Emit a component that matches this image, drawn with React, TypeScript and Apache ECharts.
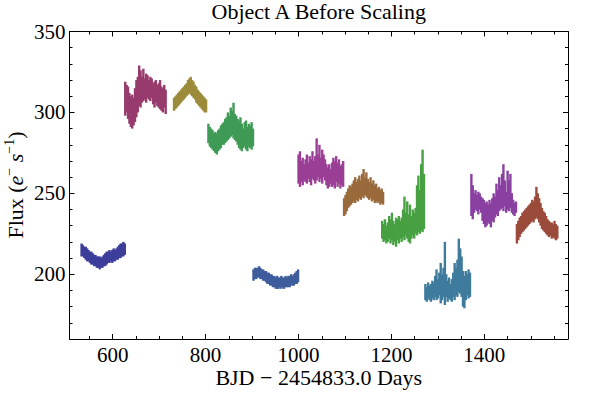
import React, { useEffect, useRef } from 'react';
import * as echarts from 'echarts';

// Axis ranges and ticks
const X_MIN = 507;
const X_MAX = 1580;
const Y_MIN = 160;
const Y_MAX = 350;
const xMajorTicks = [600, 800, 1000, 1200, 1400];
const xMinorTicks = [550, 650, 700, 750, 850, 900, 950, 1050, 1100, 1150, 1250, 1300, 1350, 1450, 1500, 1550];
const yMajorTicks = [200, 250, 300, 350];
const yMinorTicks = [170, 180, 190, 210, 220, 230, 240, 260, 270, 280, 290, 310, 320, 330, 340];

// Each quarter: start day, sampling cadence (days), flux envelope low/high
const STEP = 3;
const q1Start = 533;
const q1Low = [211, 211, 210, 209, 208, 208, 207, 206, 206, 205, 205, 204, 204, 203, 204, 204, 205, 205, 206, 207, 207, 208, 207, 208, 208, 209, 209, 210, 210, 211, 211, 212];
const q1High = [219, 218, 217, 217, 216, 215, 214, 214, 213, 212, 212, 211, 211, 211, 210, 211, 212, 213, 214, 214, 215, 214, 215, 216, 215, 216, 217, 218, 219, 219, 220, 219];

const q2Start = 627;
const q2Low = [298, 300, 296, 293, 291, 290, 292, 294, 297, 300, 304, 303, 306, 307, 308, 306, 309, 308, 307, 309, 305, 303, 306, 304, 303, 302, 301, 300, 303, 299];
const q2High = [319, 317, 316, 312, 310, 311, 309, 315, 320, 322, 329, 326, 322, 327, 321, 324, 323, 320, 322, 321, 318, 319, 320, 317, 318, 320, 316, 315, 317, 314];

const q3Start = 732;
const q3Low = [301, 302, 303, 304, 305, 306, 307, 308, 309, 310, 311, 312, 311, 310, 309, 308, 306, 305, 304, 303, 302, 301, 300, 300];
const q3High = [309, 310, 311, 312, 313, 314, 315, 316, 317, 318, 320, 321, 322, 320, 319, 317, 316, 314, 313, 312, 311, 310, 309, 308];

const q4Start = 806;
const q4Low = [281, 279, 278, 277, 276, 275, 274, 276, 277, 278, 280, 280, 281, 282, 283, 284, 285, 286, 284, 283, 282, 280, 278, 277, 276, 278, 279, 277, 276, 279, 278, 277, 279];
const q4High = [293, 291, 290, 289, 287, 288, 287, 289, 290, 292, 293, 294, 296, 297, 300, 298, 303, 301, 306, 299, 298, 296, 295, 297, 293, 290, 294, 295, 291, 293, 292, 294, 290];

const q5Start = 903;
const q5Low = [196, 197, 197, 198, 198, 197, 197, 196, 196, 195, 194, 194, 193, 193, 192, 192, 191, 191, 191, 192, 191, 192, 191, 192, 192, 192, 192, 193, 193, 193, 194, 194, 195];
const q5High = [203, 204, 204, 204, 205, 204, 203, 203, 202, 202, 201, 201, 200, 200, 199, 199, 198, 199, 198, 198, 199, 198, 198, 199, 198, 199, 199, 200, 199, 200, 201, 202, 203];

const q6Start = 1000;
const q6Low = [256, 254, 257, 255, 258, 257, 256, 259, 257, 255, 259, 258, 256, 258, 260, 257, 259, 256, 260, 258, 255, 253, 254, 256, 254, 255, 253, 257, 254, 256, 253, 255, 254];
const q6High = [274, 276, 270, 272, 268, 271, 274, 269, 273, 271, 276, 270, 273, 284, 274, 280, 272, 277, 274, 271, 268, 266, 268, 265, 269, 272, 270, 273, 269, 271, 267, 268, 270];

const q7Start = 1098;
const q7Low = [236, 237, 239, 241, 242, 243, 244, 245, 244, 246, 245, 247, 246, 248, 247, 249, 248, 247, 246, 247, 245, 246, 244, 245, 244, 245, 243, 244, 243];
const q7High = [247, 249, 251, 253, 255, 254, 256, 258, 260, 257, 259, 261, 258, 262, 265, 260, 263, 259, 257, 260, 256, 258, 255, 256, 253, 254, 252, 253, 251];

const q8Start = 1180;
const q8Low = [222, 220, 221, 219, 220, 222, 219, 221, 218, 220, 217, 221, 219, 222, 220, 223, 221, 224, 222, 220, 219, 222, 224, 222, 225, 224, 226, 225, 227, 226, 228];
const q8High = [233, 231, 234, 230, 232, 236, 234, 238, 233, 231, 235, 234, 236, 233, 235, 240, 248, 238, 245, 237, 243, 236, 240, 238, 241, 255, 261, 252, 268, 277, 262];

const q9Start = 1273;
const q9Low = [184, 183, 185, 184, 183, 185, 184, 186, 184, 185, 187, 182, 184, 186, 181, 186, 183, 185, 184, 183, 186, 184, 187, 186, 189, 188, 186, 180, 179, 184, 187, 185, 186];
const q9High = [194, 192, 195, 193, 194, 196, 195, 199, 203, 197, 201, 207, 200, 204, 220, 200, 196, 198, 194, 197, 201, 207, 204, 209, 222, 216, 211, 202, 199, 202, 200, 203, 201];

const q10Start = 1372;
const q10Low = [236, 234, 238, 240, 239, 237, 240, 238, 233, 231, 229, 230, 232, 231, 229, 233, 232, 235, 237, 236, 239, 240, 241, 239, 242, 238, 240, 239, 241, 238, 237, 236, 238];
const q10High = [262, 255, 250, 252, 249, 251, 250, 248, 247, 246, 244, 245, 243, 246, 244, 247, 250, 248, 256, 252, 260, 255, 262, 268, 258, 251, 264, 258, 262, 250, 246, 244, 245];

const q11Start = 1470;
const q11Low = [219, 221, 223, 225, 226, 227, 228, 229, 230, 231, 232, 233, 232, 234, 235, 234, 232, 230, 228, 227, 226, 225, 224, 223, 224, 222, 223, 222, 221, 222];
const q11High = [231, 233, 235, 236, 238, 239, 240, 241, 242, 243, 244, 246, 245, 248, 254, 250, 247, 244, 241, 239, 238, 236, 234, 233, 232, 232, 231, 233, 231, 230];

const quarterColors = ['#3d3d9b', '#973b6d', '#9b8b3a', '#3f9a56', '#3f5d9d', '#9a3f95', '#9a6a3c', '#47a041', '#3f7b9c', '#8a40a1', '#9b4b3b'];

const quarters: [number, number[], number[]][] = [
  [q1Start, q1Low, q1High],
  [q2Start, q2Low, q2High],
  [q3Start, q3Low, q3High],
  [q4Start, q4Low, q4High],
  [q5Start, q5Low, q5High],
  [q6Start, q6Low, q6High],
  [q7Start, q7Low, q7High],
  [q8Start, q8Low, q8High],
  [q9Start, q9Low, q9High],
  [q10Start, q10Low, q10High],
  [q11Start, q11Low, q11High],
];

const FONT = 'Liberation Serif';

function makeSeries(idx: number, start: number, low: number[], high: number[], color: string) {
  const data = low.map((lo, i) => [start + i * STEP, lo, high[i]]);
  return {
    type: 'custom',
    name: 'Q' + (idx + 1),
    xAxisIndex: 0,
    yAxisIndex: 0,
    data,
    encode: { x: 0, y: [1, 2] },
    renderItem: (params: any, api: any) => {
      const x = api.value(0);
      const lo = api.value(1);
      const hi = api.value(2);
      const top = api.coord([x, hi]);
      const bot = api.coord([x, lo]);
      const w = api.size([STEP, 0])[0] + 1;
      return {
        type: 'rect',
        shape: { x: top[0] - w / 2, y: top[1], width: w, height: bot[1] - top[1] },
        style: { fill: color, stroke: 'none', lineWidth: 0 },
      };
    },
  };
}

const plainNumber = (v: number) => String(v);

function xAxisDef(position: 'bottom' | 'top', ticks: number[], len: number, showLine: boolean, showLabel: boolean) {
  return {
    type: 'value',
    position,
    min: X_MIN,
    max: X_MAX,
    axisLine: { show: showLine, onZero: false, lineStyle: { color: '#000', width: 1 } },
    axisTick: { show: true, inside: true, length: len, customValues: ticks, lineStyle: { color: '#000', width: 1 } },
    axisLabel: showLabel
      ? { show: true, customValues: ticks, formatter: plainNumber, margin: 5, fontFamily: FONT, fontSize: 21, color: '#000' }
      : { show: false },
    splitLine: { show: false },
  };
}

function yAxisDef(position: 'left' | 'right', ticks: number[], len: number, showLine: boolean, showLabel: boolean) {
  return {
    type: 'value',
    position,
    min: Y_MIN,
    max: Y_MAX,
    axisLine: { show: showLine, onZero: false, lineStyle: { color: '#000', width: 1 } },
    axisTick: { show: true, inside: true, length: len, customValues: ticks, lineStyle: { color: '#000', width: 1 } },
    axisLabel: showLabel
      ? { show: true, customValues: ticks, formatter: plainNumber, margin: 4, fontFamily: FONT, fontSize: 21, color: '#000' }
      : { show: false },
    splitLine: { show: false },
  };
}

export default function App() {
  const ref = useRef<HTMLDivElement>(null);
  useEffect(() => {
    if (!ref.current) return;
    const chart = echarts.init(ref.current, undefined, { renderer: 'svg' });
    const option = {
      animation: false,
      backgroundColor: '#fff',
      grid: { left: 69.5, right: 32, top: 31.5, bottom: 60, containLabel: false },
      xAxis: [
        xAxisDef('bottom', xMajorTicks, 5, true, true),
        xAxisDef('bottom', xMinorTicks, 3, false, false),
        xAxisDef('top', xMajorTicks, 5, true, false),
        xAxisDef('top', xMinorTicks, 3, false, false),
      ],
      yAxis: [
        yAxisDef('left', yMajorTicks, 5, true, true),
        yAxisDef('left', yMinorTicks, 3, false, false),
        yAxisDef('right', yMajorTicks, 5, true, false),
        yAxisDef('right', yMinorTicks, 3, false, false),
      ],
      graphic: [
        {
          type: 'text',
          x: 318.75,
          y: 11,
          style: {
            text: 'Object A Before Scaling',
            fontFamily: FONT,
            fontSize: 22,
            fill: '#000',
            align: 'center',
            verticalAlign: 'middle',
          },
        },
        {
          type: 'text',
          x: 318.75,
          y: 377.5,
          style: {
            text: 'BJD \u2212 2454833.0 Days',
            fontFamily: FONT,
            fontSize: 22,
            fill: '#000',
            align: 'center',
            verticalAlign: 'middle',
          },
        },
        {
          type: 'text',
          x: 15.6,
          y: 185,
          rotation: Math.PI / 2,
          style: {
            text: '{n|Flux (}{i|e}{s|\u2212}{n| }{i|s}{s|\u22121}{n|)}',
            fontFamily: FONT,
            fontSize: 22,
            fill: '#000',
            align: 'center',
            verticalAlign: 'middle',
            rich: {
              n: { fontFamily: FONT, fontSize: 22, lineHeight: 26, fill: '#000' },
              i: { fontFamily: FONT, fontSize: 22, fontStyle: 'italic', lineHeight: 26, fill: '#000' },
              s: { fontFamily: FONT, fontSize: 14, lineHeight: 14, verticalAlign: 'top', fill: '#000' },
            },
          },
        },
      ],
      series: quarters.map((q, i) => makeSeries(i, q[0], q[1], q[2], quarterColors[i])),
    };
    chart.setOption(option as any);
    return () => chart.dispose();
  }, []);
  return (
    <div
      ref={ref}
      style={{ position: 'fixed', left: 0, top: 0, width: 600, height: 399, background: '#fff' }}
    />
  );
}
